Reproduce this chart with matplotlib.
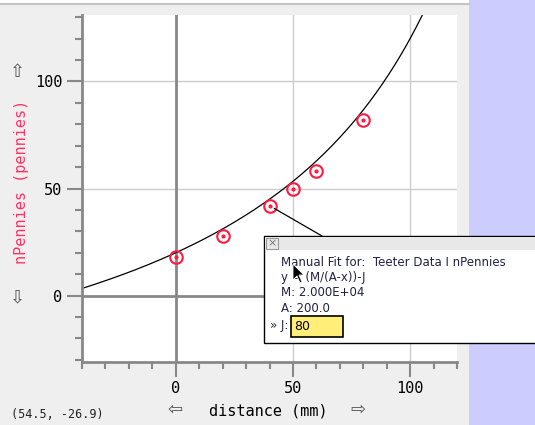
import numpy as np
import matplotlib
matplotlib.use("Agg")
import matplotlib.pyplot as plt
from matplotlib.patches import Rectangle, Polygon

# measured data
distance = [0, 20, 40, 50, 60, 80]
n_pennies = [18, 28, 42, 50, 58, 82]

# manual fit parameters  y = (M/(A-x))-J
M = 2.000e4
A = 200.0
J = 80

W, H = 535, 425
fig = plt.figure(figsize=(W / 100, H / 100), dpi=100, facecolor='#efefef')


def fx(px):
    return px / W


def fy(py):
    return 1 - py / H


# window chrome
fig.patches.append(Rectangle((fx(469), 0), 1, 1, transform=fig.transFigure,
                             facecolor='#ccccff', edgecolor='none', zorder=-1))
fig.patches.append(Rectangle((0, fy(4)), fx(469), 1, transform=fig.transFigure,
                             facecolor='white', edgecolor='none', zorder=-1))
fig.lines.append(plt.Line2D([0, fx(469)], [fy(4), fy(4)], transform=fig.transFigure,
                            color='#c4c4c4', lw=1.5))

ax = fig.add_axes([fx(82), fy(362), fx(457) - fx(82), fy(15) - fy(362)])
ax.set_facecolor('white')
ax.set_xlim(-40, 120)
ax.set_ylim(-31, 131)

for v in [50, 100]:
    ax.axvline(v, color='#cccccc', lw=1, zorder=1)
    ax.axhline(v, color='#cccccc', lw=1, zorder=1)
ax.axvline(0, color='#888888', lw=2, zorder=1)
ax.axhline(0, color='#888888', lw=2, zorder=1)

xs = np.linspace(-40, 110, 400)
ax.plot(xs, M / (A - xs) - J, color='black', lw=0.9, zorder=2)

ax.plot(distance, n_pennies, linestyle='none', marker='o', markersize=9,
        markerfacecolor='none', markeredgecolor='#ff1a40', markeredgewidth=1.5, zorder=3)
ax.plot(distance, n_pennies, linestyle='none', marker='o', markersize=2,
        color='#ff1a40', zorder=3)

# connector from selected point to the fit box
ax.annotate('', xy=(distance[2], n_pennies[2]), xycoords='data',
            xytext=(fx(322), fy(236)), textcoords='figure fraction',
            arrowprops=dict(arrowstyle='-', color='black', lw=0.9, shrinkA=0, shrinkB=4))

for s in ['top', 'right']:
    ax.spines[s].set_visible(False)
for s in ['left', 'bottom']:
    ax.spines[s].set_color('#888888')
    ax.spines[s].set_linewidth(2)

ax.set_xticks([0, 50, 100])
ax.set_xticks(np.arange(-40, 121, 10), minor=True)
ax.set_yticks([0, 50, 100])
ax.set_yticks(np.arange(-30, 131, 10), minor=True)
ax.tick_params(which='major', length=11, width=1.5, color='#888888', pad=3,
               labelsize=11, labelfontfamily='DejaVu Sans Mono')
ax.tick_params(which='minor', length=5, width=1.5, color='#888888')

fig.text(fx(268), fy(411), 'distance (mm)', ha='center', va='center',
         fontsize=11, family='DejaVu Sans Mono')
fig.text(fx(175), fy(410), '\u21e6', ha='center', va='center', fontsize=13, color='#555555')
fig.text(fx(358), fy(410), '\u21e8', ha='center', va='center', fontsize=13, color='#555555')
fig.text(fx(22), fy(182), 'nPennies (pennies)', ha='center', va='center', rotation=90,
         fontsize=11, family='DejaVu Sans Mono', color='#ff3366')
fig.text(fx(17), fy(72), '\u21e7', ha='center', va='center', fontsize=13, color='#555555')
fig.text(fx(17), fy(298), '\u21e9', ha='center', va='center', fontsize=13, color='#555555')
fig.text(fx(11), fy(415), '(54.5, -26.9)', ha='left', va='center', fontsize=8.5,
         family='DejaVu Sans Mono', color='#222222')

# manual fit box
fig.patches.append(Rectangle((fx(264), fy(343)), 1, fy(236) - fy(343), transform=fig.transFigure,
                             facecolor='white', edgecolor='black', lw=1, zorder=5))
fig.patches.append(Rectangle((fx(265), fy(250)), 1, fy(237) - fy(250), transform=fig.transFigure,
                             facecolor='#e8e8e8', edgecolor='none', zorder=6))
fig.patches.append(Rectangle((fx(266), fy(249)), fx(12), fy(238) - fy(249), transform=fig.transFigure,
                             facecolor='#e8e8e8', edgecolor='#999999', lw=0.8, zorder=7))
fig.text(fx(272), fy(243.5), '\u00d7', ha='center', va='center', fontsize=8, color='#777777', zorder=8)

lines = ['Manual Fit for:  Teeter Data I nPennies', 'y = (M/(A-x))-J',
         'M: 2.000E+04', 'A: 200.0']
for i, t in enumerate(lines):
    fig.text(fx(281), fy(263 + 15 * i), t, ha='left', va='center', fontsize=8.5,
             color='#222244', zorder=8)
fig.text(fx(270), fy(325), '\u00bb J:', ha='left', va='center', fontsize=8.5,
         color='#222244', zorder=8)
fig.patches.append(Rectangle((fx(291), fy(337)), fx(52), fy(316) - fy(337), transform=fig.transFigure,
                             facecolor='#ffee77', edgecolor='black', lw=1.2, zorder=8))
fig.text(fx(294), fy(326.5), str(J), ha='left', va='center', fontsize=9, color='black', zorder=9)

# mouse pointer
cur = np.array([[0, 0], [0, 16], [4, 12], [7, 19], [9, 18], [6, 11], [11, 11]], dtype=float)
cur[:, 0] += 293
cur[:, 1] += 264
fig.patches.append(Polygon([(fx(a), fy(b)) for a, b in cur], closed=True, transform=fig.transFigure,
                           facecolor='black', edgecolor='white', lw=0.6, zorder=10))

fig.savefig('out.png', dpi=100, facecolor=fig.get_facecolor())
